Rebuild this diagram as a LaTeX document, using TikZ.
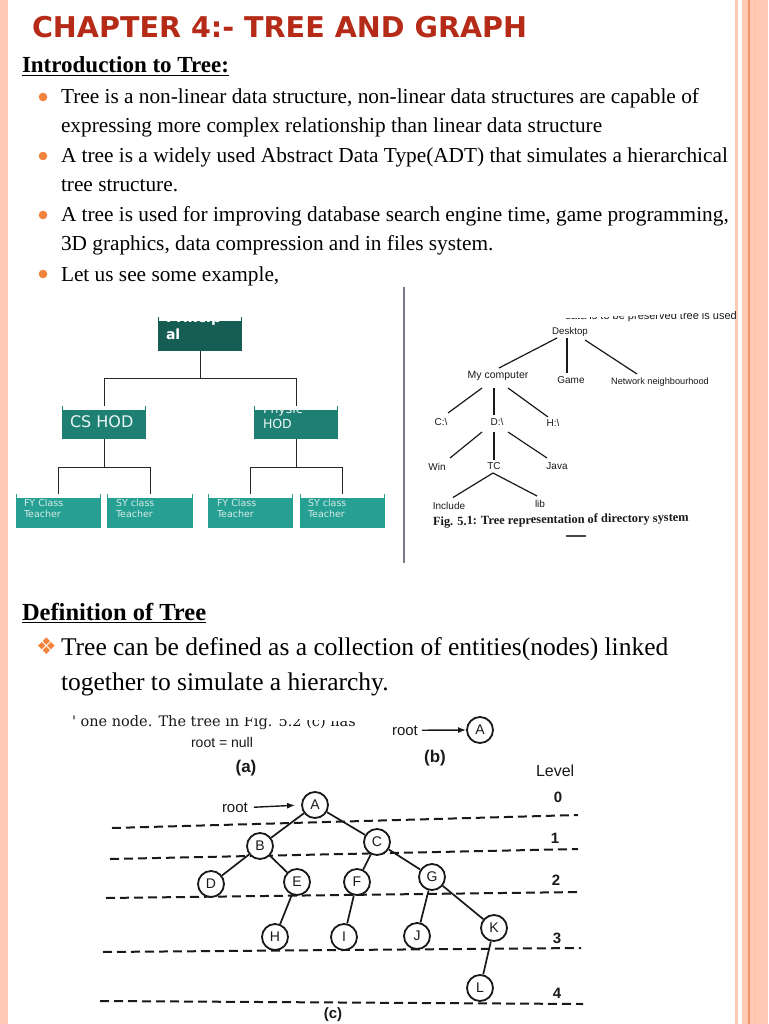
\documentclass[tikz,border=0pt]{standalone}
\usepackage{fontspec}
\setmainfont{Liberation Serif}
\newfontfamily\dejavu{DejaVu Sans}
\newfontfamily\dejavuserif{DejaVu Serif}
\newfontfamily\arialf{Liberation Sans}
\usetikzlibrary{calc,arrows.meta}
\newcommand\fsz[1]{\fontsize{#1}{#1}\selectfont}
\definecolor{titlered}{RGB}{181,43,24}
\definecolor{bulletorange}{RGB}{242,130,60}
\definecolor{borderpink}{RGB}{255,201,180}
\definecolor{borderline}{RGB}{247,150,100}
\definecolor{orgdark}{RGB}{22,94,84}
\definecolor{orgmid}{RGB}{30,128,115}
\definecolor{orglight}{RGB}{38,160,147}
\definecolor{orgtext}{RGB}{235,246,244}
\definecolor{leaftext}{RGB}{215,235,232}
\definecolor{sepgrey}{RGB}{120,120,130}
\definecolor{scanink}{RGB}{25,25,25}
\begin{document}
\begin{tikzpicture}[x=1pt,y=-1pt,
  txt/.style={anchor=base west,inner sep=0pt,outer sep=0pt},
  body/.style={txt,font=\fsz{21.3}},
  orgbox/.style={inner sep=0pt,outer sep=0pt,draw=none},
  orgline/.style={line width=1pt,black!85},
  leaf/.style={txt,font=\dejavu\fsz{9.5},text=leaftext},
  dnode/.style={inner sep=0pt,outer sep=0pt,text=scanink,font=\arialf\fsz{10}},
  dedge/.style={line width=1.2pt,draw=scanink},
  tnode/.style={circle,draw=scanink,fill=white,line width=1.8pt,minimum size=26pt,inner sep=0pt,font=\arialf\fsz{14},text=scanink},
  tedge/.style={line width=1.7pt,draw=scanink},
  lvl/.style={line width=2pt,draw=scanink,dash pattern=on 9pt off 5pt},
  arr/.style={-{Latex[length=8pt,width=6pt]},line width=1.4pt,draw=scanink},
  lvlnum/.style={inner sep=0pt,font=\arialf\bfseries\fsz{15},text=scanink}
]
\useasboundingbox (0,0) rectangle (768,1024);
% page borders
\fill[borderpink] (0,0) rectangle (8,1024);
\fill[borderpink] (735,0) rectangle (738,1024);
\fill[borderpink] (742,0) rectangle (768,1024);
\draw[borderline,line width=1.3pt] (749,0) -- (749,1024);
\draw[borderline!60,line width=0.8pt] (755,0) -- (755,1024);

% title
\node[txt,font=\dejavu\bfseries\fsz{28.6},text=titlered] (title) at (32,38) {CHAPTER 4:- TREE AND GRAPH};
\node[txt,font=\bfseries\fsz{23}] (intro) at (22,73) {Introduction to Tree:};
\draw[line width=1.2pt] ($(intro.base west)+(0,2.5)$) -- ($(intro.base east)+(0,2.5)$);

% bullets
\foreach \yy in {97,156,215,274} \fill[bulletorange] (43,\yy) circle[radius=4.3pt];
\node[body] (b1) at (61,104) {Tree is a non-linear data structure, non-linear data structures are capable of};
\node[body] (b2) at (61,133) {expressing more complex relationship than linear data structure};
\node[body] (b3) at (61,163) {A tree is a widely used Abstract Data Type(ADT) that simulates a hierarchical};
\node[body] (b4) at (61,192) {tree structure.};
\node[body] (b5) at (61,222) {A tree is used for improving database search engine time, game programming,};
\node[body] (b6) at (61,251) {3D graphics, data compression and in files system.};
\node[body] (b7) at (61,281) {Let us see some example,};

% org chart
\node[orgbox,fill=orgdark,minimum width=84,minimum height=34] (prin) at (200,334) {};
\node[orgbox,fill=orgmid,minimum width=84,minimum height=33] (cs) at (104,422.5) {};
\node[orgbox,fill=orgmid,minimum width=84,minimum height=33] (ph) at (296,422.5) {};
\node[orgbox,fill=orglight,minimum width=85,minimum height=34] (fya) at (58.5,511) {};
\node[orgbox,fill=orglight,minimum width=86,minimum height=34] (sya) at (150,511) {};
\node[orgbox,fill=orglight,minimum width=85,minimum height=34] (fyb) at (250.5,511) {};
\node[orgbox,fill=orglight,minimum width=85,minimum height=34] (syb) at (342.5,511) {};
\foreach \b in {prin,cs,ph,fya,sya,fyb,syb}
  \fill[white] ($(\b.north west)+(1,0)$) rectangle ($(\b.north east)+(-1,4)$);
\draw[orgline] (prin.south) -- ++(0,27) coordinate (pj) -| (cs.north);
\draw[orgline] (pj) -| (ph.north);
\draw[orgline] (cs.south) -- ++(0,28) coordinate (cj) -| (fya.north);
\draw[orgline] (cj) -| (sya.north);
\draw[orgline] (ph.south) -- ++(0,28) coordinate (hj) -| (fyb.north);
\draw[orgline] (hj) -| (syb.north);
\begin{scope}
  \clip (prin.south west) rectangle (prin.north east);
  \node[txt,font=\dejavu\bfseries\fsz{14},text=white] (princ) at ($(prin.north west)+(8,5)$) {Princip};
\end{scope}
\node[txt,font=\dejavu\bfseries\fsz{14},text=white] (pal) at ($(prin.north west)+(8,22)$) {al};
\node[txt,font=\dejavu\fsz{16},text=orgtext] (cst) at ($(cs.north west)+(8,21)$) {CS HOD};
\begin{scope}
  \clip ($(ph.north west)+(0,4)$) rectangle (ph.south east);
  \node[txt,font=\dejavu\fsz{12.5},text=orgtext] (pht) at ($(ph.north west)+(9,7)$) {Physic};
\end{scope}
\node[txt,font=\dejavu\fsz{12.5},text=orgtext] (phh) at ($(ph.north west)+(9,22)$) {HOD};
\node[leaf] (fya1) at ($(fya.north west)+(8,12)$) {FY Class};
\node[leaf] (fya2) at ($(fya.north west)+(8,23.5)$) {Teacher};
\node[leaf] (sya1) at ($(sya.north west)+(9,12)$) {SY class};
\node[leaf] (sya2) at ($(sya.north west)+(9,23.5)$) {Teacher};
\node[leaf] (fyb1) at ($(fyb.north west)+(9,12)$) {FY Class};
\node[leaf] (fyb2) at ($(fyb.north west)+(9,23.5)$) {Teacher};
\node[leaf] (syb1) at ($(syb.north west)+(8,12)$) {SY class};
\node[leaf] (syb2) at ($(syb.north west)+(8,23.5)$) {Teacher};

% separator
\draw[sepgrey,line width=1.2pt] (404,287) -- (404,563);

% directory tree
\begin{scope}
  \clip (560,318.5) -- (736,311) -- (736,330) -- (560,330) -- cycle;
  \node[txt,font=\arialf\fsz{11},text=scanink] (dtop) at (565,319) {data is to be preserved tree is used};
\end{scope}
\node[dnode,font=\arialf\fsz{9.7}] (desk) at (570,332) {Desktop};
\node[dnode,font=\arialf\fsz{10.5}] (myc) at (498,376) {My computer};
\node[dnode] (game) at (571,380) {Game};
\node[dnode,font=\arialf\fsz{9.2}] (net) at (660,382) {Network neighbourhood};
\node[dnode] (cdr) at (441,422) {C:\textbackslash};
\node[dnode] (ddr) at (497,422) {D:\textbackslash};
\node[dnode] (hdr) at (553,423) {H:\textbackslash};
\node[dnode] (win) at (437,467) {Win};
\node[dnode] (tc) at (494,466) {TC};
\node[dnode] (java) at (557,466) {Java};
\node[dnode] (inc) at (449,505.5) {Include};
\node[dnode] (lib) at (540,504) {lib};
\draw[dedge] ($(desk)+(-13,6)$) -- ($(myc)+(1,-8)$);
\draw[dedge] ($(desk)+(-3,6)$) -- ($(game)+(-4,-7)$);
\draw[dedge] ($(desk)+(15,8)$) -- ($(net)+(-23,-8)$);
\draw[dedge] ($(myc)+(-16,12)$) -- ($(cdr)+(7,-9)$);
\draw[dedge] ($(myc)+(-4,12)$) -- ($(ddr)+(-3,-7)$);
\draw[dedge] ($(myc)+(10,12)$) -- ($(hdr)+(-5,-6)$);
\draw[dedge] ($(ddr)+(-15,10)$) -- ($(win)+(13,-9)$);
\draw[dedge] ($(ddr)+(-3,10)$) -- ($(tc)+(0,-6)$);
\draw[dedge] ($(ddr)+(11,10)$) -- ($(java)+(-10,-8)$);
\draw[dedge] ($(tc)+(-1,7)$) -- ($(inc)+(4,-8)$);
\draw[dedge] ($(tc)+(-1,7)$) -- ($(lib)+(-3,-8)$);
\node[txt,font=\bfseries\fsz{12.4},text=scanink,rotate=0.9] (dcap) at (433,525.5) {Fig. 5.1: Tree representation of directory system};
\draw[scanink!80,line width=1.5pt] (566,536) -- (586,536);

% definition
\node[txt,font=\bfseries\fsz{24.5}] (defn) at (22,620) {Definition of Tree};
\draw[line width=1.2pt] ($(defn.base west)+(0,2.5)$) -- ($(defn.base east)+(0,2.5)$);
\node[txt,font=\dejavu\fsz{23},text=bulletorange] (dia) at (36,654) {❖};
\node[txt,font=\fsz{25.5}] (d1) at (61,655) {Tree can be defined as a collection of entities(nodes) linked};
\node[txt,font=\fsz{25.5}] (d2) at (61,690) {together to simulate a hierarchy.};

% scanned tree figure
\begin{scope}
  \clip (60,713) -- (220,716) -- (388,722.5) -- (388,740) -- (60,740) -- cycle;
  \node[txt,font=\dejavuserif\fsz{14.5},text=scanink] (sline) at (72,726) {' one node. The tree in Fig. 5.2 (c) has};
\end{scope}
\node[inner sep=0pt,font=\arialf\fsz{14},text=scanink] (rnull) at (222,742) {root = null};
\node[inner sep=0pt,font=\arialf\bfseries\fsz{17},text=scanink] (capa) at (246,768) {(a)};
\node[txt,font=\arialf\fsz{15},text=scanink] (rootb) at (392,735) {root};
\node[tnode] (Ab) at (480,730) {A};
\draw[arr] ($(rootb.east)+(4,0)$) -- (Ab.west);
\node[inner sep=0pt,font=\arialf\bfseries\fsz{17},text=scanink] (capb) at (435,758) {(b)};
\node[txt,font=\arialf\fsz{16},text=scanink] (level) at (536,776) {Level};
\node[lvlnum] (n0) at (558,797) {0};
\node[lvlnum] (n1) at (555,838) {1};
\node[lvlnum] (n2) at (556,880) {2};
\node[lvlnum] (n3) at (557,938) {3};
\node[lvlnum] (n4) at (557,993) {4};
\draw[lvl] (112,828) -- (578,815);
\draw[lvl] (110,859) -- (578,849);
\draw[lvl] (106,898) -- (581,892);
\draw[lvl] (103,952) -- (581,948);
\draw[lvl] (100,1001) -- (583,1004);
\node[txt,font=\arialf\fsz{15},text=scanink] (rootc) at (222,812) {root};
\node[tnode] (Ac) at (315,805) {A};
\draw[arr,shorten >=6pt] ($(rootc.east)+(6,0)$) -- (Ac.west);
\node[tnode] (B) at (260,846) {B};
\node[tnode] (C) at (377,842) {C};
\node[tnode] (D) at (211,884) {D};
\node[tnode] (E) at (297,882) {E};
\node[tnode] (F) at (357,882) {F};
\node[tnode] (G) at (432,877) {G};
\node[tnode] (H) at (275,937) {H};
\node[tnode] (I) at (344,937) {I};
\node[tnode] (J) at (417,936) {J};
\node[tnode] (K) at (494,928) {K};
\node[tnode] (L) at (480,988) {L};
\draw[tedge] (Ac) -- (B);
\draw[tedge] (Ac) -- (C);
\draw[tedge] (B) -- (D);
\draw[tedge] (B) -- (E);
\draw[tedge] (C) -- (F);
\draw[tedge] (C) -- (G);
\draw[tedge] (E) -- (H);
\draw[tedge] (F) -- (I);
\draw[tedge] (G) -- (J);
\draw[tedge] (G) -- (K);
\draw[tedge] (K) -- (L);
\node[inner sep=0pt,font=\arialf\bfseries\fsz{15},text=scanink] (capc) at (333,1015) {(c)};
\end{tikzpicture}
\end{document}
